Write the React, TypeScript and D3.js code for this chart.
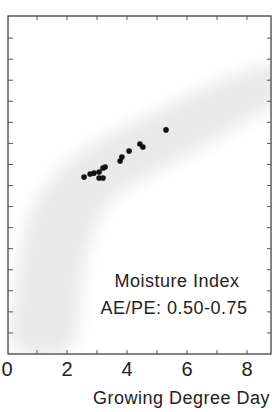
import React from "react";
import * as d3 from "d3";

const W = 272;
const H = 412;

// Scatter points (Growing Degree Days x1000 vs y value)
const ptX = [2.57, 2.77, 2.9, 3.07, 3.2, 3.27, 3.07, 3.2, 3.77, 3.83, 4.07, 4.43, 4.53, 5.3];
const ptY = [8.4, 8.55, 8.59, 8.64, 8.83, 8.88, 8.36, 8.36, 9.16, 9.35, 9.64, 9.97, 9.83, 10.64];

// Gray envelope (upper/left edge and lower/right edge)
const upperX = [0.27, 0.33, 0.6, 1.1, 2.1, 3.43, 5.1, 6.77, 8.1, 8.93];
const upperY = [0.3, 3.51, 5.89, 7.55, 9.21, 10.4, 11.59, 12.77, 13.49, 13.72];
const lowerX = [2.1, 2.5, 2.85, 3.5, 5.1, 6.93, 8.27, 8.93];
const lowerY = [0.3, 3.51, 5.65, 7.31, 8.74, 10.16, 11.35, 11.82];

const xTickLabels = [0, 2, 4, 6, 8];
const xMinorTicks = [1, 2, 3, 4, 5, 6, 7, 8];
const yMinorTicks = [1, 2, 3, 4, 5, 6, 7, 8, 9, 10, 11, 12, 13, 14, 15];

const label1 = "Moisture Index";
const label2 = "AE/PE: 0.50-0.75";
const xTitle = "Growing Degree Day";

export default function App() {
  const left = 8, right = 271, top = 16, bottom = 354;
  const x = d3.scaleLinear().domain([0, 8.8]).range([7, 271]);
  const y = d3.scaleLinear().domain([0, 16]).range([bottom, bottom - 16 * 21.06]);

  const bandPts: [number, number][] = [
    ...upperX.map((v, i) => [x(v), y(upperY[i])] as [number, number]),
    ...lowerX.map((v, i) => [x(v), y(lowerY[i])] as [number, number]).reverse(),
  ];
  const bandPath = d3.line().curve(d3.curveCatmullRomClosed)(bandPts) || "";

  const font = "'Liberation Sans', Arial, Helvetica, sans-serif";

  return (
    <svg width={W} height={H} style={{ position: "absolute", left: 0, top: 0, background: "#fff" }}>
      <defs>
        <filter id="blur" x="-20%" y="-20%" width="140%" height="140%">
          <feGaussianBlur stdDeviation="8" />
        </filter>
        <clipPath id="plot">
          <rect x={left} y={top} width={right - left} height={bottom - top} />
        </clipPath>
      </defs>
      <g clipPath="url(#plot)">
        <path d={bandPath} fill="#e9e9e9" filter="url(#blur)" />
      </g>
      {ptX.map((v, i) => (
        <circle key={i} cx={x(v)} cy={y(ptY[i])} r={2.8} fill="#111" />
      ))}
      <rect x={left} y={top} width={right - left} height={bottom - top} fill="none" stroke="#333" strokeWidth={1.2} />
      {xMinorTicks.map((t) => (
        <g key={"xt" + t} stroke="#555" strokeWidth={1}>
          <line x1={x(t)} x2={x(t)} y1={top} y2={top + 4} />
          <line x1={x(t)} x2={x(t)} y1={bottom} y2={bottom - 4} />
        </g>
      ))}
      {yMinorTicks.map((t) => (
        <g key={"yt" + t} stroke="#555" strokeWidth={1}>
          <line x1={left} x2={left + 5} y1={y(t)} y2={y(t)} />
          <line x1={right} x2={right - 4} y1={y(t)} y2={y(t)} />
        </g>
      ))}
      {xTickLabels.map((t) => (
        <text key={"xl" + t} x={x(t)} y={376} textAnchor="middle" fontFamily={font} fontSize={20} fill="#222">
          {t}
        </text>
      ))}
      <text x={93} y={404} fontFamily={font} fontSize={18} letterSpacing={0.5} fill="#222">
        {xTitle}
      </text>
      <text x={177} y={287} textAnchor="middle" fontFamily={font} fontSize={18} letterSpacing={0.5} fill="#222">
        {label1}
      </text>
      <text x={174} y={314} textAnchor="middle" fontFamily={font} fontSize={18} letterSpacing={0.5} fill="#222">
        {label2}
      </text>
    </svg>
  );
}
